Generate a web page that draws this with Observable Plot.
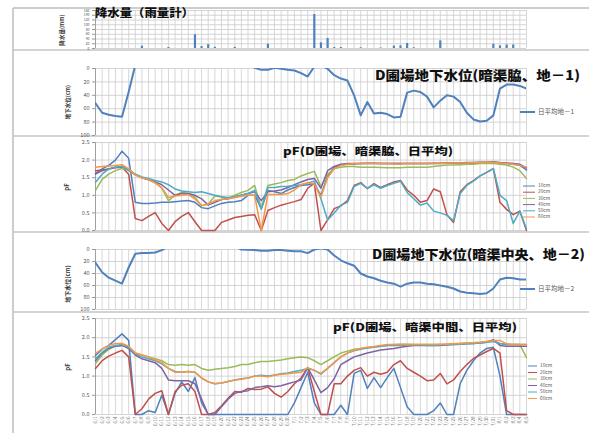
<!DOCTYPE html>
<html><head><meta charset="utf-8">
<script src="https://cdn.jsdelivr.net/npm/d3@7"></script>
<script src="https://cdn.jsdelivr.net/npm/@observablehq/plot@0.6"></script>
<style>
body{margin:0;background:#fff;}
#chart{position:relative;width:589px;height:433px;overflow:hidden;background:#fff;font-family:"Noto Sans CJK JP",sans-serif;}
#chart svg{position:absolute;left:0;overflow:visible;}
</style></head><body><div id="chart"></div>
<script>
// ---------- data ----------
const dates = [
 "6/1","6/2","6/3","6/4","6/5","6/6","6/7","6/8","6/9","6/10",
 "6/11","6/12","6/13","6/14","6/15","6/16","6/17","6/18","6/19","6/20",
 "6/21","6/22","6/23","6/24","6/25","6/26","6/27","6/28","6/29","6/30",
 "7/1","7/2","7/3","7/4","7/5","7/6","7/7","7/8","7/9","7/10",
 "7/11","7/12","7/13","7/14","7/15","7/16","7/17","7/18","7/19","7/20",
 "7/21","7/22","7/23","7/24","7/25","7/26","7/27","7/28","7/29","7/30",
 "7/31","8/1","8/2","8/3","8/4","8/5"];

const rainfall = [
 0,0,0,0,0,0,0,10,0,0,
 0,4,0,0,0,58,8,16,5,0,
 0,5,0,0,0,0,18,0,0,0,
 0,0,0,143,24,42,4,4,0,0,
 3,0,0,2,0,10,11,21,3,0,
 0,0,32,0,0,0,0,0,0,0,
 18,11,15,15,0,0];

const level1 = [
 52,66,69,71,72,35,-5,-10,-10,-10,
 -10,-10,-10,-10,-10,-10,-10,-10,-10,-10,
 -10,-10,-10,-10,-1,2,2,-1,0.5,2,
 3,7,12,-3,-5,0.5,10,15,18,40,
 70,50,67,66,68,73,72,36,33,35,
 42,58,48,40,42,50,66,76,79,78,
 70,30,24,24,26,30];

const level2 = [
 22,38,47,52,57,30,7,6,6,5,
 1,-5,-5,-5,-5,-5,-5,-5,-5,-5,
 -5,-5,0,0.5,1,2,2,1,1,2,
 3,3,6,0,-2,0,10,18,23,27,
 40,45,48,52,55,57,62,57,55,55,
 57,58,60,62,65,70,72,73,74,73,
 65,50,47,48,50,50];

const depthNames = ["10cm","20cm","30cm","40cm","50cm","60cm"];

// pF, beside the drain (地-1)
const pfSide10 = [
 1.62,1.75,1.85,2.0,2.25,2.05,0.8,0.77,0.77,0.78,
 0.8,0.8,0.82,0.84,0.85,0.8,0.65,0.62,0.7,0.77,
 0.8,0.82,0.85,1.0,1.0,0.62,1.14,1.1,1.05,1.15,
 1.22,1.28,1.3,1.32,1.0,1.55,1.8,1.86,1.88,1.89,
 1.9,1.9,1.9,1.9,1.9,1.9,1.9,1.9,1.9,1.9,
 1.9,1.9,1.9,1.91,1.91,1.91,1.92,1.92,1.93,1.93,
 1.94,1.92,1.9,1.88,1.85,1.72];
const pfSide20 = [
 1.7,1.72,1.75,1.78,1.8,1.6,0.34,0.28,0.4,0.51,
 0.2,0,0.25,0.4,0.51,0.25,0,0,0,0.23,
 0.3,0.37,0.4,0.43,0.45,0,0.57,0.65,0.72,0.77,
 0.82,0.88,1.2,1.34,0,0.3,0.62,0.7,0.85,1.28,
 1.36,1.19,1.33,1.22,1.3,1.38,1.42,1.15,1.0,0.8,
 0.85,1.18,1.1,0.45,0.23,1.1,1.3,1.42,1.55,1.65,
 1.76,0.8,0.6,0.45,0.55,0];
const pfSide30 = [
 1.14,1.45,1.6,1.7,1.76,1.72,1.6,1.5,1.45,1.36,
 1.2,0.85,1.0,1.08,1.05,0.95,0.7,0.75,0.98,0.95,
 0.91,1.0,1.08,1.14,1.28,0.65,1.28,1.32,1.36,1.42,
 1.45,1.55,1.62,1.68,1.25,1.6,1.75,1.8,1.82,1.82,
 1.8,1.8,1.8,1.79,1.78,1.78,1.78,1.8,1.8,1.8,
 1.8,1.82,1.84,1.86,1.86,1.87,1.88,1.88,1.9,1.9,
 1.9,1.88,1.86,1.8,1.7,1.48];
const pfSide40 = [
 1.6,1.7,1.75,1.8,1.82,1.72,1.58,1.5,1.44,1.38,
 1.3,1.15,1.0,1.05,1.05,1.0,0.9,0.72,0.8,0.88,
 0.9,0.95,1.0,1.05,1.1,0.85,1.1,1.12,1.15,1.22,
 1.3,1.38,1.45,1.48,1.2,1.7,1.82,1.88,1.9,1.9,
 1.9,1.91,1.91,1.9,1.9,1.9,1.9,1.9,1.9,1.9,
 1.9,1.91,1.91,1.92,1.92,1.92,1.93,1.93,1.94,1.94,
 1.95,1.93,1.92,1.9,1.88,1.78];
const pfSide50 = [
 1.37,1.6,1.75,1.8,1.82,1.7,1.6,1.52,1.48,1.42,
 1.38,1.3,1.18,1.12,1.1,1.08,1.1,1.05,1.0,0.96,
 0.94,0.96,1.0,1.05,1.14,0.6,1.22,1.22,1.25,1.26,
 1.28,1.3,1.35,1.4,0.9,0.3,0.5,0.72,0.8,1.25,
 1.34,1.2,1.3,1.2,1.28,1.34,1.4,1.08,0.9,0.72,
 0.78,0.55,0.5,0.43,0.28,1.05,1.28,1.4,1.55,1.65,
 1.76,1.0,0.85,0.2,0.55,0.05];
const pfSide60 = [
 1.8,1.82,1.83,1.85,1.87,1.75,1.58,1.5,1.45,1.35,
 1.22,0.94,0.98,1.0,1.02,0.9,0.71,0.75,0.85,0.88,
 0.9,0.94,0.97,1.0,1.0,0,1.02,1.02,1.02,1.05,
 1.15,1.3,1.35,1.32,0.95,1.5,1.75,1.85,1.88,1.9,
 1.9,1.9,1.9,1.9,1.9,1.89,1.89,1.9,1.9,1.9,
 1.9,1.9,1.91,1.91,1.92,1.92,1.92,1.93,1.93,1.94,
 1.94,1.92,1.9,1.88,1.85,1.8];

// pF, middle between drains (地-2)
const pfMid10 = [
 1.54,1.7,1.8,1.95,2.1,1.93,0,0,0.1,0.05,
 0.5,0,0.55,0.85,0.6,0.96,0.3,0,0,0,
 0,0,0,0,0,0,0,0,0,0,
 0.3,0.7,1.1,0.3,0,0,0,0.24,0,1.07,
 1.15,0.68,0.96,0.7,0.96,1.2,0.7,0.2,0,0,
 0,0.1,0.3,0,0,0.8,1.15,1.4,1.6,1.72,
 1.75,1.0,0,0,0,0];
const pfMid20 = [
 1.2,1.4,1.52,1.6,1.67,1.5,0,0.15,0.4,0.55,
 0.62,0,0.6,0.76,0.8,0.6,0,0,0.05,0.23,
 0.42,0.6,0.58,0.68,0.65,0.66,0.72,0.55,0.45,0.6,
 0.8,0.95,1.22,0.6,0,0,0.8,0.8,1.0,1.15,
 1.22,1.0,1.1,1.05,1.1,1.3,1.4,1.2,1.1,1.0,
 0.88,0.9,1.07,0.8,0.9,1.12,1.3,1.46,1.55,1.64,
 1.72,1.6,0.1,0,0,0];
const pfMid30 = [
 1.33,1.55,1.7,1.78,1.8,1.75,1.6,1.55,1.5,1.45,
 1.4,1.3,1.28,1.3,1.28,1.3,1.2,1.15,1.18,1.2,
 1.22,1.25,1.3,1.3,1.35,1.38,1.38,1.4,1.42,1.45,
 1.48,1.5,1.48,1.4,1.3,1.4,1.5,1.6,1.65,1.7,
 1.72,1.74,1.75,1.78,1.8,1.82,1.83,1.83,1.82,1.82,
 1.82,1.82,1.82,1.83,1.84,1.85,1.86,1.87,1.88,1.9,
 1.93,1.84,1.82,1.82,1.82,1.48];
const pfMid40 = [
 1.4,1.6,1.72,1.78,1.8,1.72,1.55,1.45,1.4,1.35,
 1.2,0.9,0.88,0.88,0.88,0.8,0.4,0,0,0.2,
 0.4,0.55,0.6,0.62,0.7,0.72,0.75,0.72,0.75,0.8,
 0.85,0.9,1.22,0.9,0.57,0.7,0.93,1.3,1.4,1.5,
 1.55,1.6,1.64,1.68,1.7,1.72,1.75,1.78,1.8,1.8,
 1.8,1.8,1.8,1.81,1.82,1.83,1.84,1.85,1.86,1.88,
 1.95,1.8,1.78,1.78,1.78,1.78];
const pfMid50 = [
 1.45,1.62,1.75,1.8,1.82,1.75,1.58,1.5,1.45,1.4,
 1.32,1.2,1.12,1.1,1.12,1.1,0.95,0.85,0.8,0.82,
 0.86,0.9,0.93,0.95,1.0,1.02,1.0,1.03,1.06,1.08,
 1.12,1.15,1.2,1.15,1.05,1.2,1.35,1.5,1.6,1.66,
 1.7,1.73,1.76,1.78,1.8,1.8,1.8,1.81,1.81,1.81,
 1.8,1.8,1.81,1.82,1.82,1.83,1.84,1.85,1.86,1.88,
 1.9,1.85,1.82,1.82,1.82,1.82];
const pfMid60 = [
 1.59,1.7,1.8,1.85,1.85,1.78,1.6,1.55,1.5,1.42,
 1.35,1.2,1.1,1.1,1.12,1.1,0.95,0.85,0.8,0.82,
 0.86,0.9,0.92,0.95,1.0,1.0,0.98,1.02,1.05,1.06,
 1.08,1.1,1.22,1.15,1.07,1.2,1.35,1.5,1.6,1.67,
 1.72,1.75,1.77,1.8,1.82,1.82,1.82,1.82,1.82,1.82,
 1.82,1.82,1.83,1.83,1.84,1.85,1.86,1.87,1.88,1.9,
 1.93,1.93,1.84,1.82,1.82,1.82];

const rainTicks = [0,20,40,60,80,100,120,140,160];
const levelTicks = [0,20,40,60,80,100];
const pfTicks = [0,0.5,1.0,1.5,2.0,2.5];

// ---------- styles ----------
const W = 589, ML = 95, MR = 63;
const excel = ["#4F81BD","#C0504D","#9BBB59","#8064A2","#4BACC6","#F79646"];
const FONT = "'Noto Sans CJK JP', sans-serif";
const N = dates.length;
const idx = dates.map((d, i) => i);
const rows = arr => arr.map((v, i) => ({i, v}));
const chart = document.getElementById("chart");

function panel(cfg) {
  const marks = [
    Plot.gridY(cfg.ticks, {stroke: "#d4d4d4", strokeOpacity: 1}),
    Plot.ruleX(idx, {stroke: "#cdcdcd", strokeWidth: 0.8}),
    Plot.ruleX([0], {stroke: "#a0a0a0"}),
    Plot.axisY(cfg.ticks, {tickFormat: cfg.fmt, tickSize: 3, tickPadding: 3, fontSize: cfg.fs, fill: "#555", stroke: "#999", label: null}),
    ...cfg.marks
  ];
  if (cfg.xLabels) {
    marks.push(Plot.axisX(idx, {tickFormat: i => dates[i], tickRotate: -90, fontSize: 4.6, tickSize: 0, tickPadding: 2, fill: "#777", label: null}));
  }
  const svg = Plot.plot({
    width: W, height: cfg.height,
    marginLeft: ML, marginRight: MR, marginTop: cfg.mt, marginBottom: cfg.mb,
    x: {type: "linear", domain: [0, N - 1], axis: cfg.xLabels ? undefined : null},
    y: {domain: cfg.domain, reverse: !!cfg.reverse, axis: null},
    style: {background: "transparent", fontFamily: FONT, overflow: "visible"},
    marks
  });
  svg.style.top = cfg.top + "px";
  chart.appendChild(svg);
  const g = d3.select(svg);
  const T = cfg.top;
  // title
  g.append("text").attr("x", cfg.title.x).attr("y", cfg.title.y - T)
    .attr("text-anchor", "start").attr("dominant-baseline", "middle")
    .attr("font-size", cfg.title.size).attr("font-weight", 900).attr("fill", "#111")
    .attr("textLength", cfg.title.w).attr("lengthAdjust", "spacingAndGlyphs")
    .style("font-family", FONT).text(cfg.title.text);
  // y title
  g.append("text").attr("transform", `translate(${cfg.ytitle.x},${cfg.ytitle.y - T}) rotate(-90)`)
    .attr("text-anchor", "middle").attr("dominant-baseline", "middle")
    .attr("font-size", cfg.ytitle.size).attr("font-weight", 700).attr("fill", "#333")
    .style("font-family", FONT).text(cfg.ytitle.text);
  // legend
  if (cfg.legend) {
    const L = cfg.legend;
    L.names.forEach((name, k) => {
      const y = L.y + k * L.dy - T;
      g.append("line").attr("x1", L.x1).attr("x2", L.x2).attr("y1", y).attr("y2", y)
        .attr("stroke", L.colors[k]).attr("stroke-width", L.sw);
      g.append("text").attr("x", L.x2 + 3).attr("y", y)
        .attr("text-anchor", "start").attr("dominant-baseline", "middle")
        .attr("font-size", L.fs).attr("fill", "#555").style("font-family", FONT).text(name);
    });
  }
  return svg;
}

// frame + separators
const frame = d3.select(chart).append("svg").attr("width", W).attr("height", 433).style("top", "0px");
frame.append("line").attr("x1", 13).attr("x2", W).attr("y1", 8).attr("y2", 8).attr("stroke", "#bdbdbd").attr("stroke-width", 1.5);
frame.append("line").attr("x1", 13).attr("x2", 13).attr("y1", 8).attr("y2", 433).attr("stroke", "#bdbdbd").attr("stroke-width", 1.5);
[50, 136, 232, 312].forEach(y => frame.append("line").attr("x1", 13).attr("x2", W).attr("y1", y).attr("y2", y).attr("stroke", "#c4c4c4").attr("stroke-width", 1.5));

const pfLines = (series) => series.map((s, k) =>
  Plot.line(rows(s), {x: "i", y: "v", stroke: excel[k], strokeWidth: 1.5}));

// Panel 1: rainfall
panel({
  top: 8, height: 42, mt: 2, mb: 2, domain: [0, 160], ticks: rainTicks, fmt: d3.format(","), fs: 3.4,
  marks: [Plot.ruleX(rows(rainfall).filter(d => d.v > 0), {x: "i", y1: () => 0, y2: "v", stroke: "#4F81BD", strokeWidth: 2.2})],
  title: {text: "降水量（雨量計）", x: 95, y: 14, size: 11.5, w: 99},
  ytitle: {text: "降水量(mm)", x: 62, y: 30, size: 5.5}
});

// Panel 2: ground water level beside drain
panel({
  top: 50, height: 86, mt: 18, mb: 1, domain: [0, 100], reverse: true, ticks: levelTicks, fmt: d3.format("d"), fs: 5.5,
  marks: [Plot.line(rows(level1), {x: "i", y: "v", stroke: "#4F81BD", strokeWidth: 2, clip: true})],
  title: {text: "D圃場地下水位(暗渠脇、地－1)", x: 375, y: 76, size: 13, w: 205},
  ytitle: {text: "地下水位(cm)", x: 68, y: 102, size: 5.5},
  legend: {names: ["日平均地－1"], colors: ["#4F81BD"], x1: 520, x2: 535, y: 112, dy: 0, sw: 2, fs: 6.5}
});

// Panel 3: pF beside drain
panel({
  top: 136, height: 96, mt: 6, mb: 2, domain: [0, 2.5], ticks: pfTicks, fmt: d3.format(".1f"), fs: 5.5,
  marks: pfLines([pfSide10, pfSide20, pfSide30, pfSide40, pfSide50, pfSide60]),
  title: {text: "pF(D圃場、暗渠脇、日平均)", x: 283, y: 152, size: 10.5, w: 170},
  ytitle: {text: "pF", x: 67, y: 187, size: 6},
  legend: {names: depthNames, colors: excel, x1: 523, x2: 535, y: 186, dy: 6.2, sw: 1, fs: 4.8}
});

// Panel 4: ground water level middle
panel({
  top: 232, height: 80, mt: 17, mb: 3, domain: [0, 100], reverse: true, ticks: levelTicks, fmt: d3.format("d"), fs: 5.5,
  marks: [Plot.line(rows(level2), {x: "i", y: "v", stroke: "#4F81BD", strokeWidth: 2, clip: true})],
  title: {text: "D圃場地下水位(暗渠中央、地－2)", x: 372, y: 255, size: 13, w: 213},
  ytitle: {text: "地下水位(cm)", x: 68, y: 284, size: 6},
  legend: {names: ["日平均地－2"], colors: ["#4F81BD"], x1: 520, x2: 535, y: 289, dy: 0, sw: 2, fs: 6.5}
});

// Panel 5: pF middle
panel({
  top: 312, height: 121, mt: 6, mb: 19, domain: [0, 2.5], ticks: pfTicks, fmt: d3.format(".1f"), fs: 5.5,
  marks: pfLines([pfMid10, pfMid20, pfMid30, pfMid40, pfMid50, pfMid60]),
  xLabels: true,
  title: {text: "pF(D圃場、暗渠中間、日平均)", x: 333, y: 328, size: 10.5, w: 184},
  ytitle: {text: "pF", x: 68, y: 367, size: 6},
  legend: {names: depthNames, colors: excel, x1: 528, x2: 537, y: 366, dy: 6.5, sw: 1, fs: 4.8}
});
</script></body></html>
